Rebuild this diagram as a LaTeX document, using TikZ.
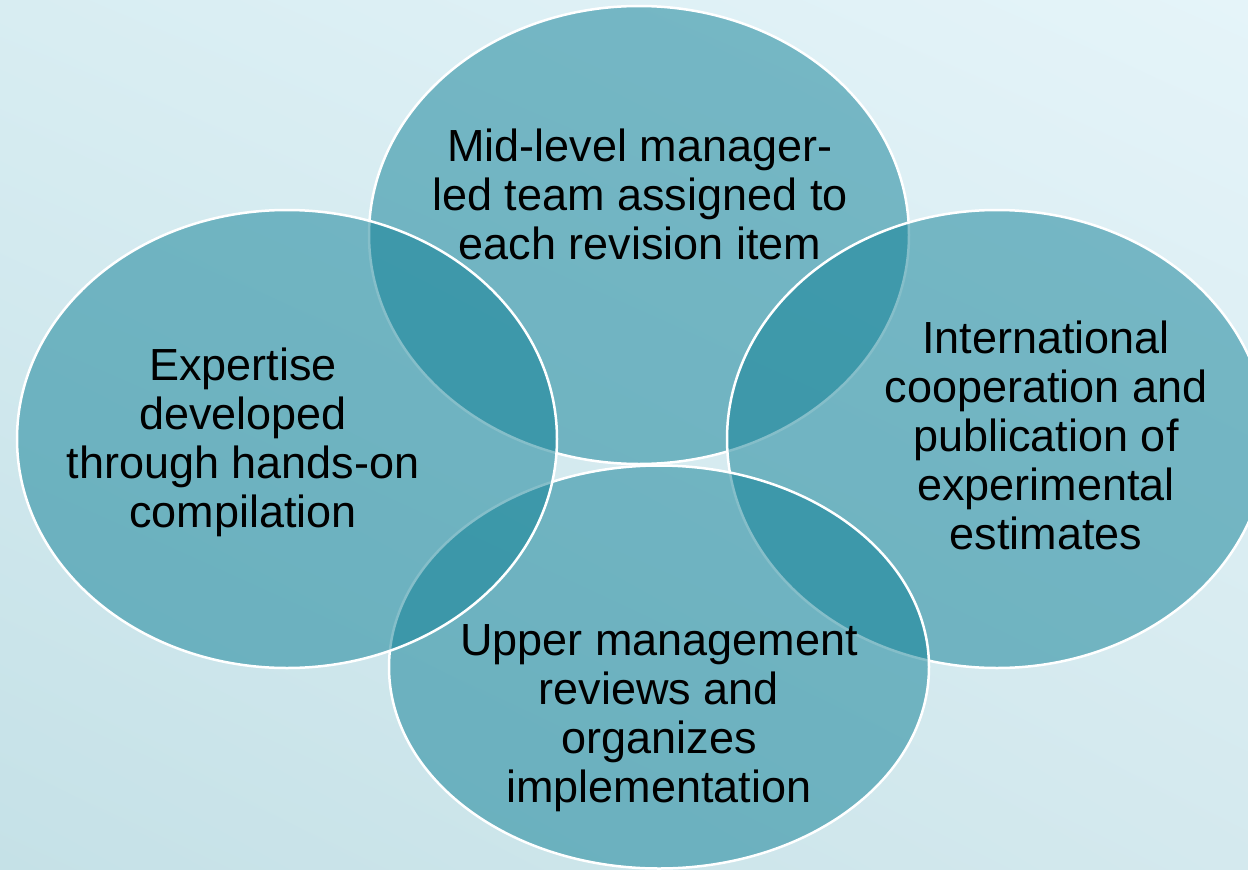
\documentclass[tikz,border=0pt]{standalone}
\usepackage{fontspec}
\setmainfont{Liberation Sans}
\usetikzlibrary{shapes.geometric,shadings}
\definecolor{petalfill}{RGB}{12,126,148}
\definecolor{bgTL}{RGB}{216,237,242}
\definecolor{bgTR}{RGB}{229,244,249}
\definecolor{bgBL}{RGB}{197,225,231}
\definecolor{bgBR}{RGB}{212,233,238}
\begin{document}
\begin{tikzpicture}[x=1pt,y=-1pt,%
  petal/.style={ellipse,draw=white,line width=2.5pt,fill=petalfill,fill opacity=0.5,minimum width=540pt,minimum height=458pt,inner sep=0pt},%
  petaltext/.style={anchor=base,align=center,text=black,font=\fontsize{45}{49}\selectfont}]%
\useasboundingbox (0,0) rectangle (1248,870);%
\clip (0,0) rectangle (1248,870);%
\shade[upper left=bgTL,upper right=bgTR,lower left=bgBL,lower right=bgBR] (0,0) rectangle (1248,870);%
%
% petals, clockwise from the top
\node[petal] (midlevel) at (639,235) {};%
\node[petal] (intl) at (997,439) {};%
\node[petal,minimum height=403pt] (upper) at (659,667) {};%
\node[petal] (expertise) at (287,439) {};%
%
% texts (placed by the baseline of their last line)
\node[petaltext] (midleveltext) at (640,259) {Mid-level manager-\\led team assigned to\\each revision item};%
\node[petaltext] (intltext) at (1046,549) {International\\cooperation and\\publication of\\experimental\\estimates};%
\node[petaltext] (uppertext) at (659,802) {Upper management\\reviews and\\organizes\\implementation};%
\node[petaltext] (expertisetext) at (243,527) {Expertise\\developed\\through hands-on\\compilation};%
%
\end{tikzpicture}
\end{document}
